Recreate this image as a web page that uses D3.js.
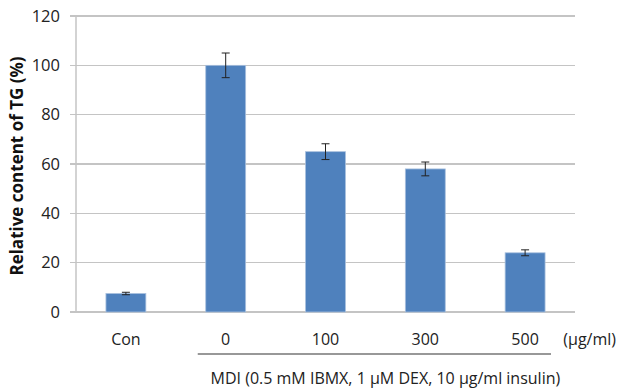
<!DOCTYPE html>
<meta charset="utf-8">
<style>
body { margin: 0; background: #fff; }
svg { font-family: "Open Sans", "DejaVu Sans", sans-serif; }
.grid line { stroke: #c4c4c4; stroke-width: 1.5px; shape-rendering: crispEdges; }
</style>
<body>
<div id="chart"></div>
<script src="https://cdn.jsdelivr.net/npm/d3@7"></script>
<script>
// data
var categories = ["Con", "0", "100", "300", "500"];
var values = [7.5, 100, 65, 58, 24];
var errors = [0.5, 5, 3.2, 2.8, 1.2];
var yTicks = [0, 20, 40, 60, 80, 100, 120];

var W = 618, H = 389,
    margin = {top: 16, right: 43, bottom: 77, left: 76},
    width = W - margin.left - margin.right,
    height = H - margin.top - margin.bottom;

var svg = d3.select("#chart").append("svg")
    .attr("width", W).attr("height", H)
  .append("g")
    .attr("transform", "translate(" + margin.left + "," + margin.top + ")");

var x = d3.scaleBand().domain(categories).range([0, width]).paddingInner(0.6).paddingOuter(0.3);
var y = d3.scaleLinear().domain([0, 120]).range([height, 0]);

// gridlines
svg.append("g").attr("class", "grid")
  .selectAll("line").data(yTicks).enter().append("line")
    .attr("x1", -6).attr("x2", width)
    .attr("y1", function(d) { return y(d); })
    .attr("y2", function(d) { return y(d); });

svg.append("line")
    .attr("x1", 0).attr("x2", 0).attr("y1", 0).attr("y2", height)
    .attr("stroke", "#c4c4c4").attr("stroke-width", 1.5);

// y labels
svg.append("g").selectAll("text").data(yTicks).enter().append("text")
    .attr("x", -16).attr("y", function(d) { return y(d); })
    .attr("dy", "0.35em")
    .attr("text-anchor", "end")
    .style("font-size", "16.5px").style("fill", "#222")
    .text(function(d) { return d; });

// bars
svg.selectAll(".bar").data(values).enter().append("rect")
    .attr("class", "bar")
    .attr("x", function(d, i) { return x(categories[i]); })
    .attr("y", function(d) { return y(d); })
    .attr("width", x.bandwidth())
    .attr("height", function(d) { return height - y(d); })
    .attr("fill", "#4f81bd")
    .attr("stroke", "#a9c0de").attr("stroke-width", 0.8);

// error bars
var eb = svg.selectAll(".err").data(values).enter().append("g")
    .attr("transform", function(d, i) { return "translate(" + (x(categories[i]) + x.bandwidth() / 2) + ",0)"; });
eb.append("line")
    .attr("y1", function(d, i) { return y(d + errors[i]); })
    .attr("y2", function(d, i) { return y(d - errors[i]); })
    .attr("stroke", "#222").attr("stroke-width", 1);
eb.append("line").attr("x1", -4).attr("x2", 4)
    .attr("y1", function(d, i) { return y(d + errors[i]); })
    .attr("y2", function(d, i) { return y(d + errors[i]); })
    .attr("stroke", "#222").attr("stroke-width", 1);
eb.append("line").attr("x1", -4).attr("x2", 4)
    .attr("y1", function(d, i) { return y(d - errors[i]); })
    .attr("y2", function(d, i) { return y(d - errors[i]); })
    .attr("stroke", "#222").attr("stroke-width", 1);

// x labels
svg.append("g").selectAll("text").data(categories).enter().append("text")
    .attr("x", function(d) { return x(d) + x.bandwidth() / 2; })
    .attr("y", height + 27)
    .attr("dy", "0.35em")
    .attr("text-anchor", "middle")
    .style("font-size", "16px").style("fill", "#222")
    .text(function(d) { return d; });

svg.append("text")
    .attr("x", W - margin.left - 2).attr("y", height + 27).attr("dy", "0.35em")
    .attr("text-anchor", "end")
    .style("font-size", "16px").style("fill", "#222")
    .text("(μg/ml)");

// MDI bracket line
svg.append("line")
    .attr("x1", x("0") - 8).attr("x2", x("500") + x.bandwidth() + 6)
    .attr("y1", height + 42).attr("y2", height + 42)
    .attr("stroke", "#333").attr("stroke-width", 1.2);

svg.append("text")
    .attr("x", (x("0") + x("500") + x.bandwidth()) / 2 + 10)
    .attr("y", height + 66).attr("dy", "0.35em")
    .attr("text-anchor", "middle")
    .style("font-size", "16px").style("fill", "#222")
    .text("MDI (0.5 mM IBMX, 1 μM DEX, 10 μg/ml insulin)");

// y title
svg.append("text")
    .attr("transform", "translate(" + (-59) + "," + (height / 2 + 2) + ") rotate(-90)")
    .attr("text-anchor", "middle")
    .attr("dy", "0.35em")
    .style("font-size", "17px").style("font-weight", "bold").style("fill", "#111")
    .text("Relative content of TG (%)");
</script>
</body>
